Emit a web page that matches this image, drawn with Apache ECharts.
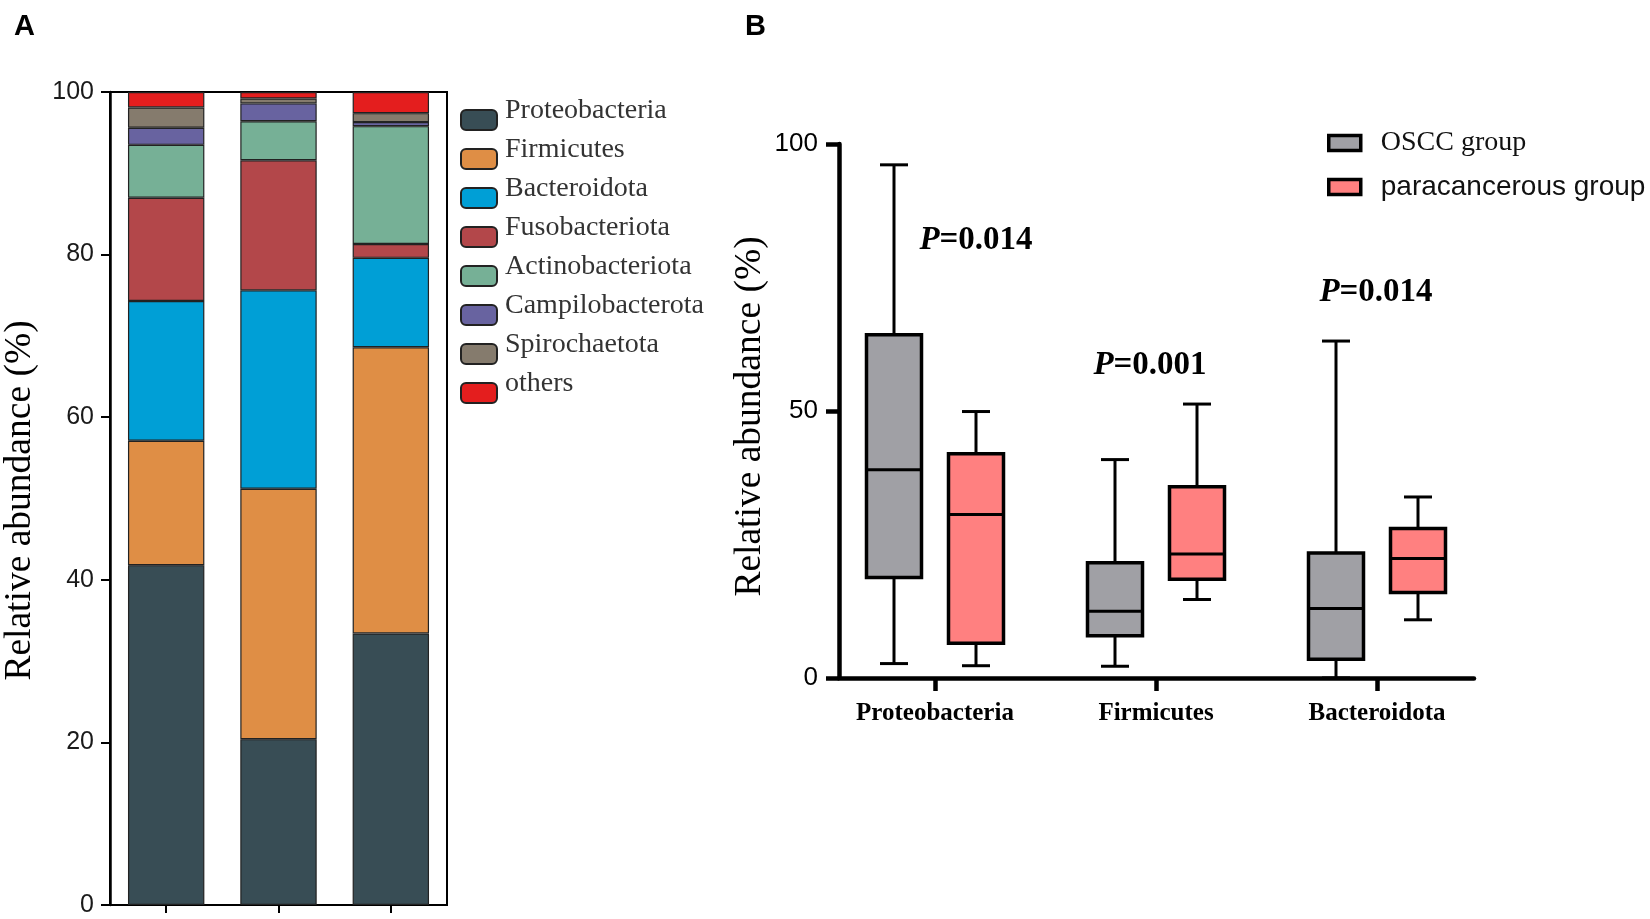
<!DOCTYPE html>
<html><head><meta charset="utf-8">
<script src="https://cdn.jsdelivr.net/npm/echarts@6/dist/echarts.min.js"></script>
<style>html,body{margin:0;padding:0;background:#fff}#c{width:1650px;height:919px}</style>
</head><body><div id="c"></div>
<script>
// ---- Panel A data (relative abundance, %) ----
const samples = ['Sample 1', 'Sample 2', 'Sample 3'];
const phyla = ['Proteobacteria','Firmicutes','Bacteroidota','Fusobacteriota','Actinobacteriota','Campilobacterota','Spirochaetota','others'];
const proteobacteria   = [41.8, 20.4, 33.4];
const firmicutes       = [15.3, 30.8, 35.2];
const bacteroidota     = [17.2, 24.4, 11.0];
const fusobacteriota   = [12.7, 16.0, 1.7];
const actinobacteriota = [6.5, 4.8, 14.5];
const campilobacterota = [2.1, 2.2, 0.5];
const spirochaetota    = [2.5, 0.6, 1.1];
const others           = [1.9, 0.8, 2.6];
const phylumColors = ['#384D55','#DF8E45','#009FD6','#B3474A','#76B096','#6863A0','#857B6D','#E41E1E'];

// ---- Panel B data: [min, Q1, median, Q3, max] ----
const boxCategories = ['Proteobacteria','Firmicutes','Bacteroidota'];
const osccBox = [[2.7, 18.8, 39.0, 64.3, 96.1], [2.2, 7.9, 12.5, 21.6, 40.9], [0.0, 3.5, 13.0, 23.4, 63.1]];
const paraBox = [[2.3, 6.5, 30.6, 42.0, 49.9], [14.7, 18.5, 23.2, 35.8, 51.3], [10.9, 16.0, 22.4, 28.0, 33.9]];
const groupNames = ['OSCC group', 'paracancerous group'];
const groupColors = ['#A0A0A5', '#FF8080'];
const pValues = ['0.014', '0.001', '0.014'];

const phylumSeriesData = [proteobacteria, firmicutes, bacteroidota, fusobacteriota, actinobacteriota, campilobacterota, spirochaetota, others];

function makeBoxRenderer(side, fill) {
  return function (params, api) {
    const ci = api.value(0);
    const band = api.size([1, 0])[0];
    const cx = api.coord([ci, 0])[0] + side * band * 41 / 221;
    const bw = band * 55 / 221, cw = band * 28 / 221;
    const y = k => api.coord([ci, api.value(k)])[1];
    const yMin = y(1), yQ1 = y(2), yMed = y(3), yQ3 = y(4), yMax = y(5);
    const ls = {stroke: '#000', lineWidth: 3};
    return {type: 'group', children: [
      {type: 'line', shape: {x1: cx, y1: yQ3, x2: cx, y2: yMax}, style: ls},
      {type: 'line', shape: {x1: cx, y1: yQ1, x2: cx, y2: yMin}, style: ls},
      {type: 'line', shape: {x1: cx - cw / 2, y1: yMax, x2: cx + cw / 2, y2: yMax}, style: ls},
      {type: 'line', shape: {x1: cx - cw / 2, y1: yMin, x2: cx + cw / 2, y2: yMin}, style: ls},
      {type: 'rect', shape: {x: cx - bw / 2, y: yQ3, width: bw, height: yQ1 - yQ3}, style: {fill: fill, stroke: '#000', lineWidth: 3.5}},
      {type: 'line', shape: {x1: cx - bw / 2, y1: yMed, x2: cx + bw / 2, y2: yMed}, style: {stroke: '#000', lineWidth: 3}}
    ]};
  };
}

const pPos = [[976, 240], [1150, 365], [1376, 292]];

const chart = echarts.init(document.getElementById('c'));
chart.setOption({
  animation: false,
  backgroundColor: '#fff',
  title: [
    {text: 'A', left: 14, top: 12, padding: 0, textStyle: {fontFamily: 'Liberation Sans', fontWeight: 'bold', fontSize: 29, color: '#000'}},
    {text: 'B', left: 745, top: 12, padding: 0, textStyle: {fontFamily: 'Liberation Sans', fontWeight: 'bold', fontSize: 29, color: '#000'}}
  ],
  legend: [
    {
      orient: 'vertical', left: 455, top: 92, itemWidth: 36, itemHeight: 20, itemGap: 5,
      icon: 'roundRect', selectedMode: false,
      formatter: '{a|{name}}',
      textStyle: {fontFamily: 'Liberation Serif', fontSize: 28, color: '#333',
        rich: {a: {fontFamily: 'Liberation Serif', fontSize: 28, color: '#333', padding: [0, 0, 18, 3]}}},
      data: phyla
    },
    {
      orient: 'vertical', left: 1322, top: 124, itemWidth: 32, itemHeight: 15, itemGap: 16,
      selectedMode: false,
      textStyle: {fontSize: 28, color: '#111', padding: [0, 0, 0, 15]},
      data: [
        {name: groupNames[0], icon: 'rect', itemStyle: {color: groupColors[0], borderColor: '#000', borderWidth: 3.5}, textStyle: {fontFamily: 'Liberation Serif'}},
        {name: groupNames[1], icon: 'rect', itemStyle: {color: groupColors[1], borderColor: '#000', borderWidth: 3.5}, textStyle: {fontFamily: 'Liberation Sans'}}
      ]
    }
  ],
  grid: [
    {left: 110, top: 92, width: 337, height: 813, show: true, borderColor: '#000', borderWidth: 2, backgroundColor: 'transparent'},
    {left: 839, top: 144, width: 635, height: 534},
    {left: 824.5, top: 144, width: 663, height: 534}
  ],
  xAxis: [
    {gridIndex: 0, type: 'category', data: samples, axisLine: {show: true, lineStyle: {color: '#000', width: 2}},
     axisTick: {show: true, alignWithLabel: true, length: 8, lineStyle: {color: '#000', width: 2}}, axisLabel: {show: false}},
    {gridIndex: 1, type: 'value', min: 0, max: 1, axisLine: {show: true, onZero: false, lineStyle: {color: '#000', width: 4.5}},
     axisTick: {show: false}, axisLabel: {show: false}, splitLine: {show: false}},
    {gridIndex: 2, type: 'category', data: boxCategories, axisLine: {show: false},
     axisTick: {show: true, alignWithLabel: true, length: 13, lineStyle: {color: '#000', width: 4.5}},
     axisLabel: {margin: 23, fontFamily: 'Liberation Serif', fontWeight: 'bold', fontSize: 25, color: '#000'}}
  ],
  yAxis: [
    {gridIndex: 0, type: 'value', min: 0, max: 100, interval: 20,
     name: 'Relative abundance (%)', nameLocation: 'middle', nameGap: 71,
     nameTextStyle: {fontFamily: 'Liberation Serif', fontSize: 37.5, color: '#000', padding: [0, 4, 0, 0]},
     axisLine: {show: true, lineStyle: {color: '#000', width: 2.5}},
     axisTick: {show: true, length: 9, lineStyle: {color: '#000', width: 2}},
     axisLabel: {margin: 16, fontFamily: 'Liberation Sans', fontSize: 25, color: '#1a1a1a'}, splitLine: {show: false}},
    {gridIndex: 1, type: 'value', min: 0, max: 100, interval: 50,
     name: 'Relative abundance (%)', nameLocation: 'middle', nameGap: 70,
     nameTextStyle: {fontFamily: 'Liberation Serif', fontSize: 37.5, color: '#000', padding: [0, 11, 0, 0]},
     axisLine: {show: true, lineStyle: {color: '#000', width: 4.5}},
     axisTick: {show: true, length: 13, lineStyle: {color: '#000', width: 4.5}},
     axisLabel: {margin: 21, fontFamily: 'Liberation Sans', fontSize: 26, color: '#000'}, splitLine: {show: false}},
    {gridIndex: 2, type: 'value', min: 0, max: 100, show: false}
  ],
  graphic: pValues.map((p, i) => ({
    type: 'text', x: pPos[i][0], y: pPos[i][1], z: 10,
    style: {
      text: '{i|P}{b|=' + p + '}', align: 'center', verticalAlign: 'middle',
      rich: {
        i: {fontFamily: 'Liberation Serif', fontStyle: 'italic', fontWeight: 'bold', fontSize: 33, fill: '#000'},
        b: {fontFamily: 'Liberation Serif', fontWeight: 'bold', fontSize: 33, fill: '#000'}
      }
    }
  })),
  series: phyla.map((name, i) => ({
    name: name, type: 'bar', stack: 'total', xAxisIndex: 0, yAxisIndex: 0, barWidth: '68%',
    itemStyle: {color: phylumColors[i], borderColor: '#222', borderWidth: 1.2},
    data: phylumSeriesData[i]
  })).concat([
    {name: groupNames[0], type: 'custom', xAxisIndex: 2, yAxisIndex: 2, clip: false,
     itemStyle: {color: groupColors[0]}, encode: {x: 0, y: [1, 2, 3, 4, 5]},
     renderItem: makeBoxRenderer(-1, groupColors[0]), data: osccBox.map((d, i) => [i].concat(d))},
    {name: groupNames[1], type: 'custom', xAxisIndex: 2, yAxisIndex: 2, clip: false,
     itemStyle: {color: groupColors[1]}, encode: {x: 0, y: [1, 2, 3, 4, 5]},
     renderItem: makeBoxRenderer(1, groupColors[1]), data: paraBox.map((d, i) => [i].concat(d))}
  ])
});
</script></body></html>
